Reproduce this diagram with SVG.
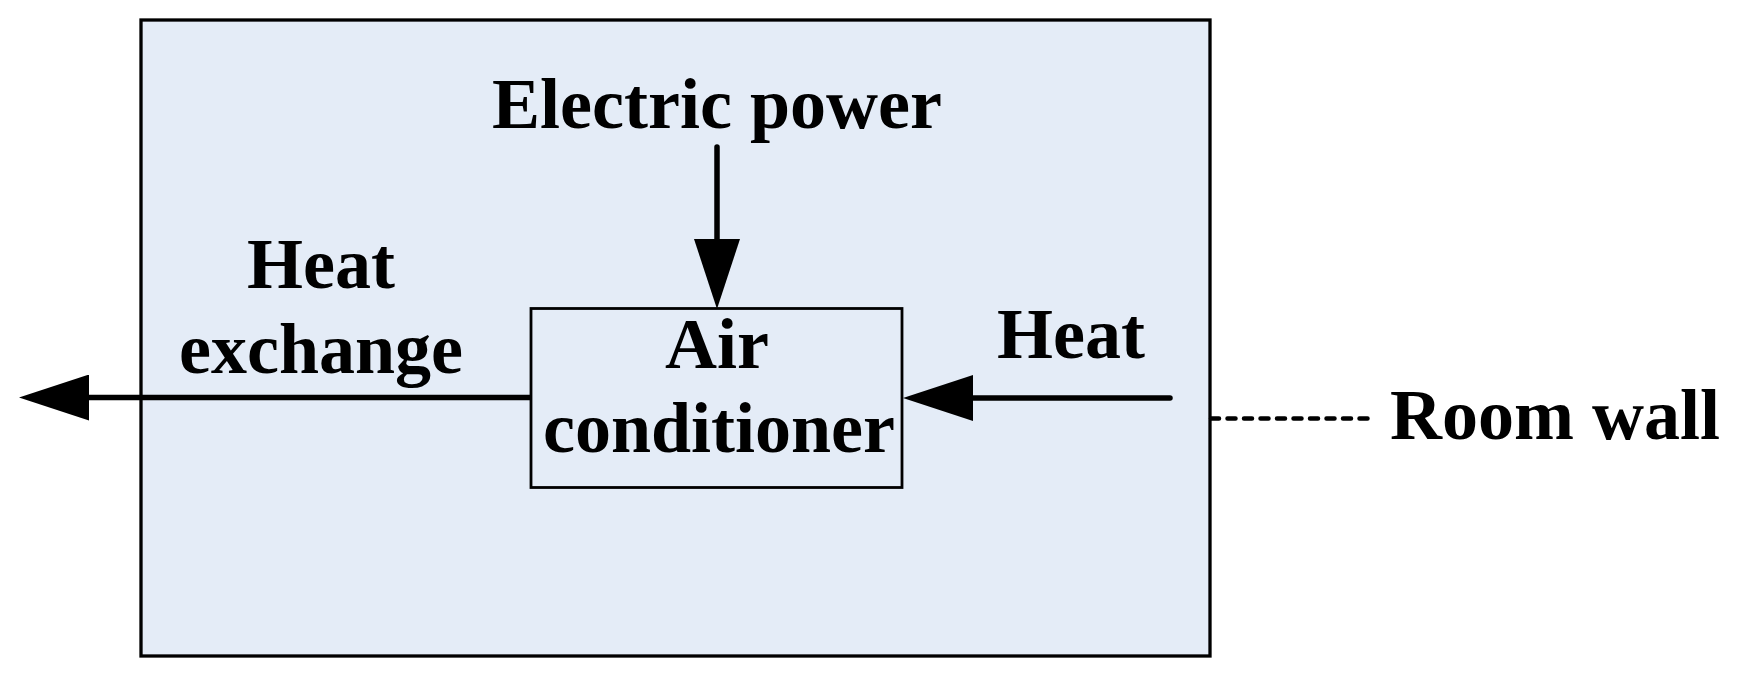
<svg xmlns="http://www.w3.org/2000/svg" width="1739" height="677" viewBox="0 0 1739 677">
<style>
  .lbl { font-family: "Liberation Serif", "Times New Roman", serif; font-weight: bold; font-size: 72px; fill: #000; }
  .conn { stroke: #000; stroke-width: 5.5; fill: none; stroke-linecap: round; }
</style>
<defs>
  <marker id="arrow" markerUnits="userSpaceOnUse" viewBox="0 0 70 46" refX="0" refY="23" markerWidth="70" markerHeight="46" orient="auto">
    <path d="M0,0 L70,23 L0,46 Z" fill="#000"/>
  </marker>
</defs>
<rect width="1739" height="677" fill="#fff"/>
<g id="room">
  <rect x="141" y="20" width="1069" height="636" fill="#E4ECF7" stroke="#000" stroke-width="3.3"/>
</g>
<g id="air-conditioner">
  <rect x="531" y="308.5" width="371" height="179" fill="none" stroke="#000" stroke-width="2.8"/>
  <text class="lbl" x="717" y="368" text-anchor="middle">Air</text>
  <text class="lbl" x="719" y="452" text-anchor="middle">conditioner</text>
</g>
<g id="electric-power">
  <text class="lbl" x="717" y="128" text-anchor="middle">Electric power</text>
</g>
<g id="heat-exchange">
  <text class="lbl" x="321" y="288" text-anchor="middle">Heat</text>
  <text class="lbl" x="321" y="373" text-anchor="middle">exchange</text>
</g>
<g id="heat">
  <text class="lbl" x="1071" y="358" text-anchor="middle">Heat</text>
</g>
<g id="room-wall">
  <text class="lbl" x="1390" y="439">Room wall</text>
</g>
<g id="connectors">
  <line class="conn" x1="531" y1="397.5" x2="89" y2="397.5" marker-end="url(#arrow)" style="stroke-linecap:butt"/>
  <line class="conn" x1="717" y1="147" x2="717" y2="239" marker-end="url(#arrow)"/>
  <line class="conn" x1="1170" y1="398" x2="973" y2="398" marker-end="url(#arrow)"/>
  <line x1="1211" y1="418.5" x2="1376" y2="418.5" stroke="#000" stroke-width="4.5" stroke-linecap="round" stroke-dasharray="8 8.5"/>
</g>
</svg>
